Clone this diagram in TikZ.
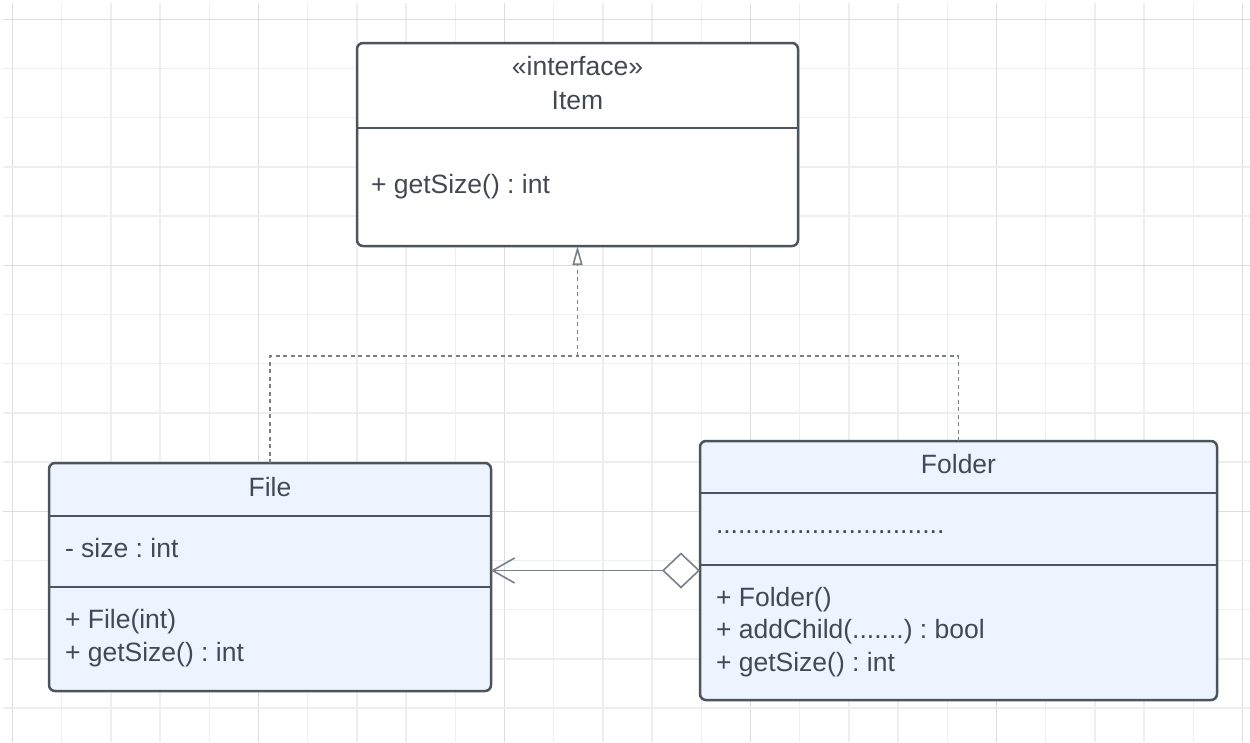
\documentclass[tikz,border=0pt]{standalone}
\usepackage{fontspec}
\setmainfont{Liberation Sans}
\usetikzlibrary{arrows.meta}
\frenchspacing
\definecolor{gridminor}{HTML}{EEEEEE}
\definecolor{gridmajor}{HTML}{DDDDDD}
\definecolor{stroke}{HTML}{4D545C}
\definecolor{txt}{HTML}{434951}
\definecolor{boxblue}{HTML}{EDF4FF}
\definecolor{conn}{HTML}{7A8088}
\begin{document}
\begin{tikzpicture}[x=1pt,y=-1pt,
  classbox/.style={draw=stroke, line width=2.5pt, rounded corners=6pt, anchor=north west, inner sep=0pt, outer sep=0pt},
  divider/.style={draw=stroke, line width=2.5pt},
  lbl/.style={text=txt, font=\fontsize{26.5}{30}\selectfont, inner sep=0pt, outer sep=0pt, anchor=base west},
  ttl/.style={lbl, anchor=base},
  realize/.style={draw=conn, line width=1.6pt, dash pattern=on 4pt off 3.5pt},
  assoc/.style={draw=conn, line width=1.6pt},
  gminor/.style={draw=gridminor, line width=1.5pt},
  gmajor/.style={draw=gridmajor, line width=1.5pt}
]
\fill[white] (0,0) rectangle (1250,742);
\useasboundingbox (0,0) rectangle (1250,742);
% grid
\foreach \i in {0,...,25}{
  \pgfmathtruncatemacro{\m}{mod(\i,5)}
  \ifnum\m=0
    \draw[gmajor] ({12.5+49.2*\i},3) -- ({12.5+49.2*\i},742);
  \else
    \draw[gminor] ({12.5+49.2*\i},3) -- ({12.5+49.2*\i},742);
  \fi
}
\foreach \j in {0,...,14}{
  \pgfmathtruncatemacro{\m}{mod(\j,5)}
  \ifnum\m=0
    \draw[gmajor] (3,{19.3+49.2*\j}) -- (1250,{19.3+49.2*\j});
  \else
    \draw[gminor] (3,{19.3+49.2*\j}) -- (1250,{19.3+49.2*\j});
  \fi
}

% Item interface
\node[classbox, fill=white, minimum width=441pt, minimum height=203pt] (item) at (357,43) {};
\draw[divider] (357,128) -- (798,128);
\node[ttl] (itemst) at (577.5,75) {«interface»};
\node[ttl] (itemname) at (577.5,109) {Item};
\node[lbl] (itemop) at (371,193) {+ getSize() : int};

% File
\node[classbox, fill=boxblue, minimum width=442pt, minimum height=228pt] (file) at (49,463) {};
\draw[divider] (49,516) -- (491,516);
\draw[divider] (49,587) -- (491,587);
\node[ttl] (filename) at (270,496) {File};
\node[lbl] (fileattr) at (65,557) {- size : int};
\node[lbl] (fileop1) at (65,628) {+ File(int)};
\node[lbl] (fileop2) at (65,661) {+ getSize() : int};

% Folder
\node[classbox, fill=boxblue, minimum width=517pt, minimum height=259pt] (folder) at (700,441) {};
\draw[divider] (700,493) -- (1217,493);
\draw[divider] (700,565) -- (1217,565);
\node[ttl] (foldername) at (958.5,473) {Folder};
\node[lbl] (folderattr) at (716,533) {...............................};
\node[lbl] (folderop1) at (716,606) {+ Folder()};
\node[lbl] (folderop2) at (716,638.5) {+ addChild(.......) : bool};
\node[lbl] (folderop3) at (716,671) {+ getSize() : int};

% realization
\coordinate (j) at (577.5,356);
\draw[realize] (file.north) |- (j);
\draw[realize] (folder.north) |- (j);
\draw[realize, -{Triangle[open, length=19pt, width=10pt, fill=white]}] (j) -- (item.south);

% aggregation
\draw[assoc, {Diamond[open, length=38pt, width=36pt, fill=white]}-{Straight Barb[length=22pt, width=25pt]}] (folder.west) -- (file.east |- folder.west);
\end{tikzpicture}
\end{document}
